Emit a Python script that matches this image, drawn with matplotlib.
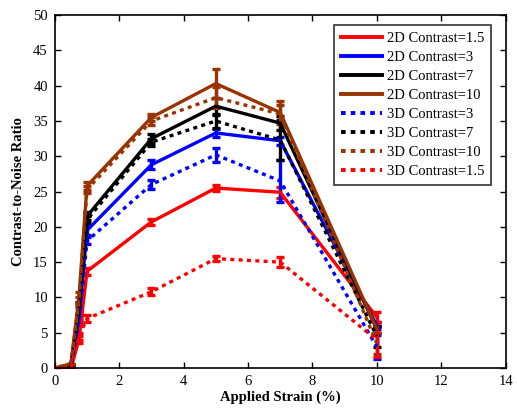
import numpy as np
import matplotlib
matplotlib.use('Agg')
import matplotlib.pyplot as plt
from matplotlib.lines import Line2D

plt.rcParams['font.family'] = ['Liberation Serif', 'DejaVu Serif']

# applied strain (%)
strain = [0, 0.25, 0.5, 0.75, 1, 3, 5, 7, 10]

# contrast-to-noise ratio, one list per curve
cnr_2d_15 = [0, 0, 0, 4.0, 13.7, 20.7, 25.5, 24.9, 7.2]
cnr_2d_3 = [0, 0, 0.2, 7.0, 19.5, 28.8, 33.3, 32.2, 6.0]
cnr_2d_7 = [0, 0.2, 0.4, 8.5, 21.5, 32.5, 37.1, 34.7, 5.5]
cnr_2d_10 = [0, 0.3, 0.6, 10.0, 25.8, 35.5, 40.3, 36.2, 5.5]
cnr_3d_3 = [0, 0, 0.1, 6.5, 18.0, 26.0, 30.2, 26.5, 3.0]
cnr_3d_7 = [0, 0.1, 0.3, 8.0, 21.0, 32.0, 35.0, 32.3, 4.5]
cnr_3d_10 = [0, 0.2, 0.5, 9.5, 25.3, 35.0, 38.3, 36.0, 3.5]
cnr_3d_15 = [0, 0, 0, 4.5, 7.0, 10.8, 15.5, 15.0, 4.0]

# error bars
err_2d_15 = [0, 0, 0, 0.5, 0.5, 0.4, 0.4, 0.8, 0.7]
err_2d_3 = [0, 0, 0, 0.5, 0.6, 0.6, 0.5, 0.6, 0.5]
err_2d_7 = [0, 0, 0, 0.8, 0.6, 0.6, 1.2, 1.0, 0.5]
err_2d_10 = [0, 0, 0, 0.8, 0.6, 0.5, 2.0, 1.6, 0.5]
err_3d_3 = [0, 0, 0, 0.5, 0.5, 0.6, 1.0, 3.0, 1.7]
err_3d_7 = [0, 0, 0, 0.6, 0.5, 0.5, 1.0, 2.8, 1.5]
err_3d_10 = [0, 0, 0, 0.6, 0.5, 0.5, 1.5, 1.2, 1.5]
err_3d_15 = [0, 0, 0, 0.5, 0.5, 0.5, 0.4, 0.7, 2.5]

labels = ['2D Contrast=1.5', '2D Contrast=3', '2D Contrast=7', '2D Contrast=10',
          '3D Contrast=3', '3D Contrast=7', '3D Contrast=10', '3D Contrast=1.5']

red = '#ff0000'
blue = '#0000ff'
black = '#000000'
brown = '#993300'

series = [
    (cnr_2d_15, err_2d_15, red, '-'),
    (cnr_2d_3, err_2d_3, blue, '-'),
    (cnr_2d_7, err_2d_7, black, '-'),
    (cnr_2d_10, err_2d_10, brown, '-'),
    (cnr_3d_3, err_3d_3, blue, ':'),
    (cnr_3d_7, err_3d_7, black, ':'),
    (cnr_3d_10, err_3d_10, brown, ':'),
    (cnr_3d_15, err_3d_15, red, ':'),
]

dots = [1.2, 1.3]
lw = 2.4

fig = plt.figure(figsize=(5.17, 4.08), dpi=100)
ax = fig.add_axes([0.106, 0.098, 0.872, 0.865])

handles = []
for (y, e, c, ls), lab in zip(series, labels):
    eb = ax.errorbar(strain, y, yerr=e, color=c, linestyle=ls, linewidth=lw,
                     elinewidth=lw, capsize=3, capthick=lw)
    h = Line2D([], [], color=c, linewidth=lw + 0.4, linestyle=ls, label=lab)
    if ls == ':':
        eb[0].set_dashes(dots)
        h.set_dashes(dots)
    handles.append(h)

ax.set_xlim(0, 14)
ax.set_ylim(0, 50)
ax.set_xticks(np.arange(0, 15, 2))
ax.set_yticks(np.arange(0, 51, 5))
ax.tick_params(direction='in', labelsize=10.5, length=4, width=1,
               top=True, right=True, pad=5)
for s in ax.spines.values():
    s.set_linewidth(1.2)

ax.set_xlabel('Applied Strain (%)', fontsize=10.5, fontweight='bold', labelpad=2)
ax.set_ylabel('Contrast-to-Noise Ratio', fontsize=10.5, fontweight='bold', labelpad=6)

leg = ax.legend(handles=handles, loc='upper right', bbox_to_anchor=(0.967, 0.972),
                fontsize=10.5, frameon=True, fancybox=False, edgecolor='black',
                handlelength=2.8, handletextpad=0.35, borderpad=0.45,
                labelspacing=0.4, borderaxespad=0)
leg.get_frame().set_linewidth(1.2)

plt.savefig('out.png', dpi=100)
